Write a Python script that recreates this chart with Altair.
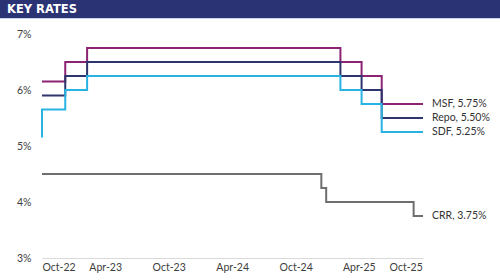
import altair as alt
import pandas as pd

# ---- data ----
policy_dates = ["2022-10-01", "2022-12-07", "2023-02-08", "2025-02-07",
                "2025-04-09", "2025-06-06", "2025-10-03"]
msf = [6.15, 6.50, 6.75, 6.50, 6.25, 5.75, 5.75]
repo = [5.90, 6.25, 6.50, 6.25, 6.00, 5.50, 5.50]
sdf_dates = ["2022-10-01"] + policy_dates
sdf = [5.15, 5.65, 6.00, 6.25, 6.00, 5.75, 5.25, 5.25]
crr_dates = ["2022-10-01", "2024-12-14", "2024-12-28", "2025-09-06", "2025-10-03"]
crr = [4.50, 4.25, 4.00, 3.75, 3.75]

series_names = ["MSF", "Repo", "SDF", "CRR"]
series_colors = ["#8c2373", "#2e356e", "#29b3e3", "#6e6e6e"]
end_labels = ["MSF, 5.75%", "Repo, 5.50%", "SDF, 5.25%", "CRR, 3.75%"]
tick_dates = [(2022, 10), (2023, 4), (2023, 10), (2024, 4), (2024, 10), (2025, 4), (2025, 10)]

rows = []
for name, ds, vs in [("MSF", policy_dates, msf), ("Repo", policy_dates, repo),
                     ("SDF", sdf_dates, sdf), ("CRR", crr_dates, crr)]:
    for i, (d, v) in enumerate(zip(ds, vs)):
        rows.append({"series": name, "date": d, "value": v, "idx": i})
df = pd.DataFrame(rows)

lab = pd.DataFrame({
    "series": series_names,
    "date": ["2025-10-03"] * 4,
    "value": [msf[-1], repo[-1], sdf[-1], crr[-1]],
    "label": end_labels,
})

FONT = "Lato"
FS = 10.5

x_enc = alt.X("date:T",
              scale=alt.Scale(type="utc",
                              domain=[alt.DateTime(year=2022, month=10, date=1, utc=True),
                                      alt.DateTime(year=2025, month=10, date=3, utc=True)]),
              axis=alt.Axis(title=None,
                            labelExpr="utcFormat(datum.value, '%b-%y')",
                            values=[alt.DateTime(year=y, month=m, date=1, utc=True) for y, m in tick_dates],
                            grid=False, ticks=False, domainColor="#d9d9d9", domainWidth=1,
                            labelFont=FONT, labelFontSize=FS, labelColor="#404040",
                            labelPadding=4, labelAngle=0))
y_enc = alt.Y("value:Q",
              scale=alt.Scale(domain=[3, 7], nice=False, zero=False),
              axis=alt.Axis(title=None, values=[3, 4, 5, 6, 7], labelExpr="datum.value + '%'",
                            grid=False, ticks=False, domain=False,
                            labelFont=FONT, labelFontSize=FS, labelColor="#404040",
                            labelPadding=11))
color_enc = alt.Color("series:N", scale=alt.Scale(domain=series_names, range=series_colors), legend=None)

lines = alt.Chart(df).mark_line(interpolate="step-after", strokeWidth=2).encode(
    x=x_enc, y=y_enc, color=color_enc, order="idx:Q", detail="series:N"
)

labels = alt.Chart(lab).mark_text(align="left", baseline="middle", dx=9, font=FONT,
                                  fontSize=FS, color="#333333").encode(
    x="date:T", y="value:Q", text="label:N"
)

banner_df = pd.DataFrame({"t": ["KEY RATES"]})
banner = alt.Chart(banner_df).mark_rect(color="#2a3374").encode(
    x=alt.value(-42), x2=alt.value(458), y=alt.value(-34), y2=alt.value(-16)
)
banner_line = alt.Chart(banner_df).mark_rect(color="#c9d2ee").encode(
    x=alt.value(-42), x2=alt.value(458), y=alt.value(-16), y2=alt.value(-15)
)
banner_text = alt.Chart(banner_df).mark_text(align="left", baseline="middle", font="DejaVu Sans",
                                             fontWeight="bold", fontSize=11.5, color="white").encode(
    x=alt.value(-35), y=alt.value(-24.5), text="t:N"
)

chart = alt.layer(banner, banner_line, banner_text, lines, labels).properties(
    width=381, height=224,
    autosize=alt.AutoSizeParams(type="none"),
    padding={"left": 42, "top": 34, "right": 77, "bottom": 22},
    background="white",
).configure_view(stroke=None)

chart.save("out.html", embed_options={"renderer": "svg", "actions": False})
